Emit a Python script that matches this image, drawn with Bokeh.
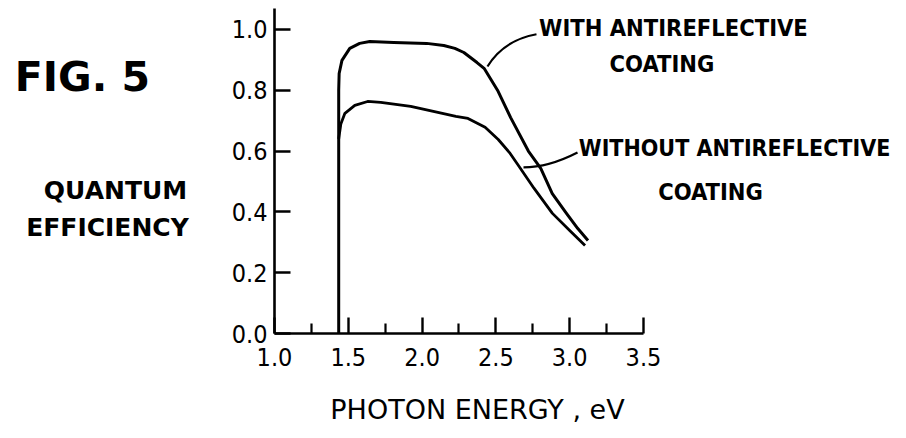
from bokeh.plotting import figure
from bokeh.models import Range1d, FixedTicker, PrintfTickFormatter, Label
from bokeh.layouts import row, column
from bokeh.core.properties import value
from bokeh.embed import file_html
from bokeh.resources import INLINE

# ---- data ----
with_e = [1.435, 1.435, 1.438, 1.457, 1.51, 1.577, 1.645, 1.808, 2.031, 2.147, 2.222,
          2.283, 2.372, 2.42, 2.511, 2.60, 2.72, 2.804, 2.882, 2.978, 3.055, 3.124]
with_qe = [0.0, 0.80, 0.855, 0.898, 0.9375, 0.954, 0.96, 0.957, 0.954, 0.947, 0.9375,
           0.924, 0.891, 0.872, 0.80, 0.71, 0.60, 0.543, 0.46, 0.395, 0.345, 0.306]

without_e = [1.435, 1.45, 1.477, 1.544, 1.631, 1.72, 1.923, 2.107, 2.229, 2.311, 2.427,
             2.516, 2.592, 2.662, 2.759, 2.883, 3.0, 3.104]
without_qe = [0.64, 0.69, 0.724, 0.75, 0.763, 0.76, 0.747, 0.727, 0.714, 0.707, 0.678,
              0.638, 0.595, 0.546, 0.477, 0.395, 0.339, 0.289]

x_ticks = [1.0, 1.5, 2.0, 2.5, 3.0, 3.5]
x_minor = [1.25, 1.75, 2.25, 2.75, 3.25]
y_ticks = [0.0, 0.2, 0.4, 0.6, 0.8, 1.0]

# leader lines (start, control, end) in data units
with_leader = dict(x0=2.443, y0=0.878, cx=2.551, cy=0.964, x1=2.775, y1=0.984)
without_leader = dict(x0=2.687, y0=0.546, cx=2.856, cy=0.546, x1=3.053, y1=0.595)

NARROW = "'DejaVu Sans Condensed', sans-serif"
WIDE = "'DejaVu Sans', sans-serif"

TOP_H = 385
LEFT_W = 220
FRAME_H = 333  # height of the plotting frame (x axis line position)

# ---------- main chart ----------
p = figure(width=906 - LEFT_W, height=TOP_H, output_backend="svg", toolbar_location=None,
           x_range=Range1d(1.0, 5.282), y_range=Range1d(0.0, 1.095),
           min_border_left=274 - LEFT_W, min_border_right=0, min_border_top=0,
           min_border_bottom=TOP_H - FRAME_H)
p.outline_line_color = None
p.xgrid.visible = False
p.ygrid.visible = False

for ax in (p.xaxis[0], p.yaxis[0]):
    ax.axis_line_width = 2.6
    ax.axis_line_color = "black"
    ax.major_tick_line_width = 2.4
    ax.major_tick_line_color = "black"
    ax.major_tick_in = 16
    ax.major_tick_out = 0
    ax.minor_tick_in = 10
    ax.minor_tick_out = 0
    ax.minor_tick_line_width = 2.2
    ax.minor_tick_line_color = "black"
    ax.major_label_text_font = NARROW
    ax.major_label_text_font_size = "25px"
    ax.major_label_text_color = "black"
    ax.formatter = PrintfTickFormatter(format="%.1f")

p.xaxis[0].ticker = FixedTicker(ticks=x_ticks, minor_ticks=x_minor)
p.yaxis[0].ticker = FixedTicker(ticks=y_ticks, minor_ticks=[])
p.xaxis[0].bounds = (1.0, 3.5)
p.yaxis[0].bounds = (0.0, 1.07)
p.xaxis[0].major_label_standoff = 14
p.yaxis[0].major_label_standoff = 7

p.line(with_e, with_qe, line_color="black", line_width=3, line_join="round")
p.line(without_e, without_qe, line_color="black", line_width=2.8, line_join="round")

for ld in (with_leader, without_leader):
    p.quadratic(x0=[ld["x0"]], y0=[ld["y0"]], x1=[ld["x1"]], y1=[ld["y1"]],
                cx=[ld["cx"]], cy=[ld["cy"]], line_color="black", line_width=2.2)

def lab(text, x, y, size):
    p.add_layout(Label(x=x, y=y, text=text, text_font=NARROW, text_font_size=size,
                       text_font_style="bold", text_align="center", text_baseline="middle",
                       text_color="black"))

lab("WITH ANTIREFLECTIVE", 3.703, 1.005, "23.5px")
lab("COATING", 3.625, 0.885, "23.5px")
lab("WITHOUT ANTIREFLECTIVE", 4.117, 0.610, "23px")
lab("COATING", 3.954, 0.464, "23.5px")

# ---------- text panels (pixel coordinates) ----------
def blank(w, h, frame_h):
    f = figure(width=w, height=h, output_backend="svg", toolbar_location=None,
               x_range=Range1d(0, w), y_range=Range1d(frame_h, 0),
               min_border_left=0, min_border_right=0, min_border_top=0,
               min_border_bottom=h - frame_h, x_axis_location=None, y_axis_location=None)
    f.outline_line_color = None
    f.xgrid.visible = False
    f.ygrid.visible = False
    return f

left = blank(LEFT_W, TOP_H, FRAME_H)
left.text(x=[82], y=[76], text=["FIG. 5"], text_font=value(WIDE), text_font_size="41px",
          text_font_style="bold", text_align="center", text_baseline="middle", text_color="black")
left.text(x=[115, 107], y=[190, 227], text=["QUANTUM", "EFFICIENCY"], text_font=value(WIDE),
          text_font_size="25px", text_font_style="bold", text_align="center",
          text_baseline="middle", text_color="black")

# ---------- bottom axis title ----------
bottom = blank(906, 438 - TOP_H, 438 - TOP_H)
bottom.text(x=[477], y=[409 - TOP_H], text=["PHOTON ENERGY , eV"], text_font=value(WIDE),
            text_font_size="27px", text_align="center", text_baseline="middle",
            text_color="black")

layout = column(row(left, p), bottom)
open("out.html", "w").write(file_html(layout, INLINE))
